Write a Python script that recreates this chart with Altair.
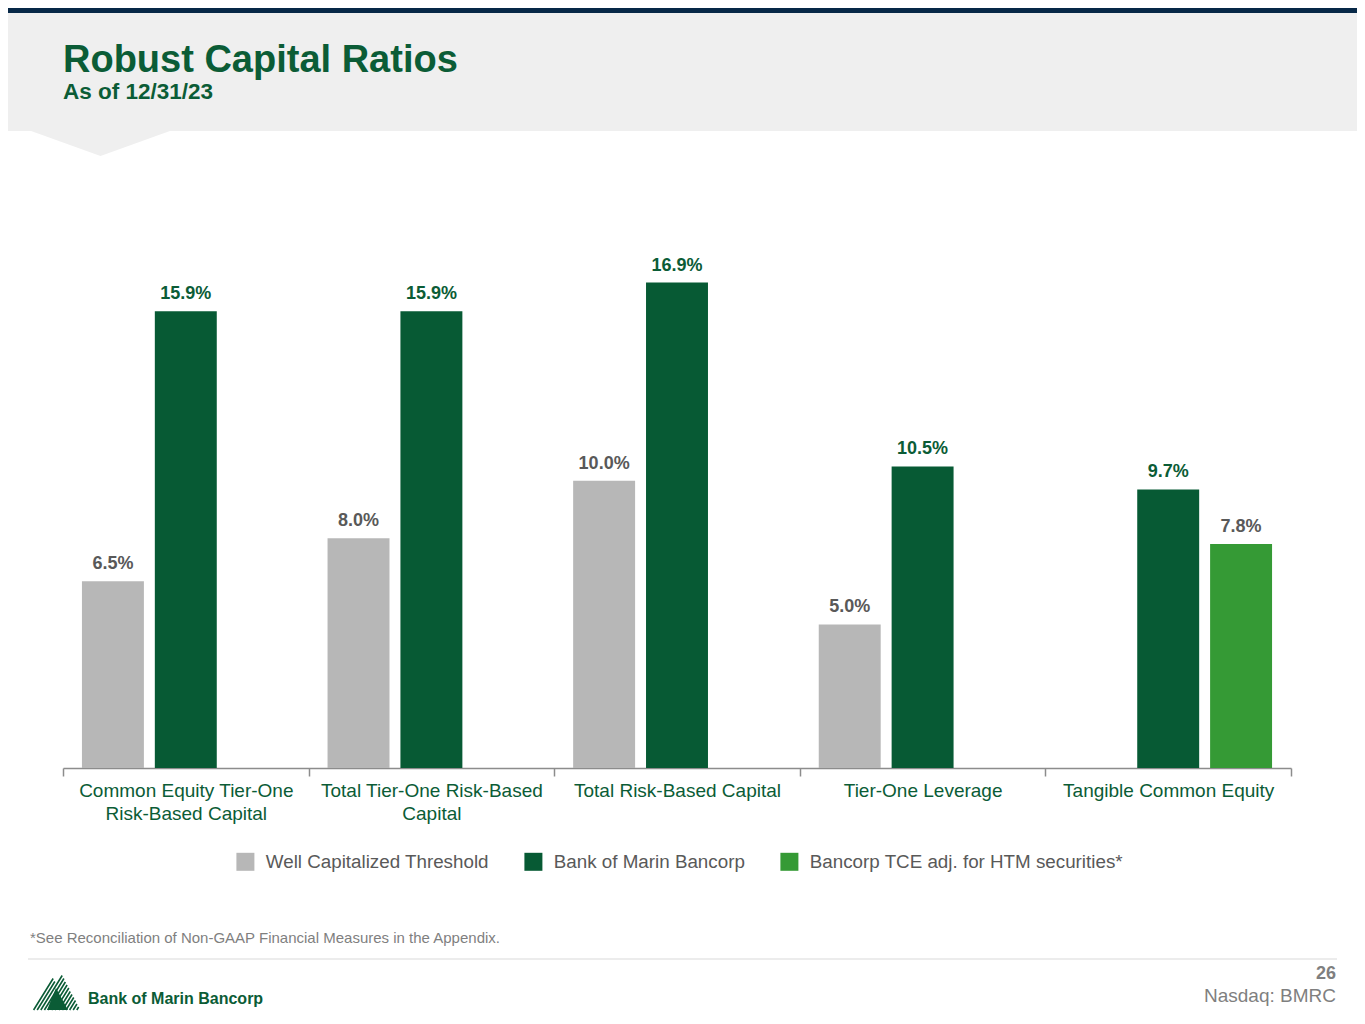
import altair as alt
import pandas as pd
import numpy as np

# ---------------- data ----------------
categories = [
    "Common Equity Tier-One\nRisk-Based Capital",
    "Total Tier-One Risk-Based\nCapital",
    "Total Risk-Based Capital",
    "Tier-One Leverage",
    "Tangible Common Equity",
]
series = [
    "Well Capitalized Threshold",
    "Bank of Marin Bancorp",
    "Bancorp TCE adj. for HTM securities*",
]
threshold = [6.5, 8.0, 10.0, 5.0, None]
bancorp = [15.9, 15.9, 16.9, 10.5, 9.7]
tce_adj = [None, None, None, None, 7.8]

title_text = "Robust Capital Ratios"
subtitle_text = "As of 12/31/23"
footnote_text = "*See Reconciliation of Non-GAAP Financial Measures in the Appendix."
page_text = "26"
ticker_text = "Nasdaq: BMRC"
logo_text = "Bank of Marin Bancorp"

# ---------------- styles ----------------
FONT = "Liberation Sans, Arial, Helvetica, sans-serif"
GREEN_TXT = "#0B5C36"
GRAY_TXT = "#595959"
colors = ["#B7B7B7", "#075A34", "#359A35"]

rows = []
for vals, s in zip([threshold, bancorp, tce_adj], series):
    for c, v in zip(categories, vals):
        if v is not None:
            rows.append({"category": c, "series": s, "value": v})
df = pd.DataFrame(rows)

W, H = 1228, 517
OX, OY = 63, 251  # page position of plot origin


def px(x):
    return x - OX


def py(y):
    return y - OY


x_enc = alt.X(
    "category:N",
    sort=categories,
    scale=alt.Scale(paddingInner=0, paddingOuter=0),
    axis=alt.Axis(
        title=None,
        labelAngle=0,
        labelFont=FONT,
        labelFontSize=19,
        labelColor=GREEN_TXT,
        labelPadding=5,
        labelLineHeight=23,
        labelLimit=400,
        labelExpr="split(datum.label, '\\n')",
        domainColor="#8C8C8C",
        domainWidth=1.5,
        tickColor="#8C8C8C",
        tickWidth=1.5,
        tickSize=8,
        tickBand="extent",
        grid=False,
    ),
)
xoff_enc = alt.XOffset(
    "series:N",
    sort=series,
    scale=alt.Scale(domain=series, paddingInner=0.15, paddingOuter=0.26),
)
y_enc = alt.Y("value:Q", scale=alt.Scale(domain=[0, 18]), axis=None)

bars = alt.Chart(df).mark_bar().encode(
    x=x_enc,
    xOffset=xoff_enc,
    y=y_enc,
    color=alt.Color(
        "series:N",
        sort=series,
        scale=alt.Scale(domain=series, range=colors),
        legend=alt.Legend(
            title=None,
            orient="none",
            legendX=173,
            legendY=601,
            direction="horizontal",
            symbolType="square",
            symbolSize=324,
            symbolStrokeWidth=0,
            labelFont=FONT,
            labelFontSize=18.8,
            labelColor=GRAY_TXT,
            labelOffset=11,
            columnPadding=35,
            labelLimit=500,
            padding=0,
        ),
    ),
)

labels = alt.Chart(df).transform_calculate(
    lbl="format(datum.value, '.1f') + '%'"
).mark_text(
    baseline="bottom", dy=-8, fontSize=18, fontWeight="bold", font=FONT
).encode(
    x=alt.X("category:N", sort=categories),
    xOffset=alt.XOffset("series:N", sort=series),
    y=alt.Y("value:Q"),
    text="lbl:N",
    color=alt.condition(
        alt.datum.series == series[1], alt.value(GREEN_TXT), alt.value(GRAY_TXT)
    ),
)


def one(t):
    return pd.DataFrame({"t": [t]})


# header
navy = alt.Chart(one("n")).mark_rect(color="#072847").encode(
    x=alt.value(px(0)), x2=alt.value(px(1365)), y=alt.value(py(0)), y2=alt.value(py(13))
)
band = alt.Chart(one("b")).mark_rect(color="#EFEFEF").encode(
    x=alt.value(px(0)), x2=alt.value(px(1365)), y=alt.value(py(13)), y2=alt.value(py(131))
)
chevron = alt.Chart(one("c")).mark_point(
    shape="M -1 -0.05 L 1 -0.05 L 0 0.31 Z",
    filled=True,
    fill="#EFEFEF",
    strokeWidth=0,
    opacity=1,
    size=161 * 161,
).encode(x=alt.value(px(100.5)), y=alt.value(py(131)))

title = alt.Chart(one(title_text)).mark_text(
    align="left", baseline="alphabetic", font=FONT, fontSize=38, fontWeight="bold", color=GREEN_TXT
).encode(x=alt.value(px(63)), y=alt.value(py(72)), text="t:N")
subtitle = alt.Chart(one(subtitle_text)).mark_text(
    align="left", baseline="alphabetic", font=FONT, fontSize=22.5, fontWeight="bold", color=GREEN_TXT
).encode(x=alt.value(px(63)), y=alt.value(py(99)), text="t:N")

# footer
footnote = alt.Chart(one(footnote_text)).mark_text(
    align="left", baseline="middle", font=FONT, fontSize=15, color="#7F7F7F"
).encode(x=alt.value(px(30)), y=alt.value(py(938)), text="t:N")
sep = alt.Chart(one("s")).mark_rule(color="#D9D9D9", strokeWidth=1).encode(
    x=alt.value(px(28)), x2=alt.value(px(1337)), y=alt.value(py(959))
)
page = alt.Chart(one(page_text)).mark_text(
    align="right", baseline="middle", font=FONT, fontSize=18, fontWeight="bold", color="#7F7F7F"
).encode(x=alt.value(px(1336)), y=alt.value(py(974)), text="t:N")
ticker = alt.Chart(one(ticker_text)).mark_text(
    align="right", baseline="middle", font=FONT, fontSize=19, color="#7F7F7F"
).encode(x=alt.value(px(1336)), y=alt.value(py(996)), text="t:N")
logo = alt.Chart(one(logo_text)).mark_text(
    align="left", baseline="middle", font="Liberation Sans Narrow, Arial Narrow, Liberation Sans, Arial, sans-serif",
    fontSize=16, fontWeight="bold", color=GREEN_TXT
).encode(x=alt.value(px(88)), y=alt.value(py(999)), text="t:N")

# logo icon (decorative)
CX, CY, HALF = 55.5, 992.0, 26.0


def outline(x):
    if x < 51:
        return 1010 - (x - 30) / 21 * 35
    if x < 56:
        return 975 + (x - 51) / 5 * 9
    if x < 61:
        return 984 - (x - 56) / 5 * 10
    return 974 + (x - 61) / 19 * 36


def u(x, y):
    return f"{(x - CX) / HALF:.3f} {(y - CY) / HALF:.3f}"


parts = []
for xb in np.arange(30.0, 79.0, 3.6):
    x, y = xb, 1010.0
    while y > outline(x) and x < 81:
        x += 0.62 * 0.5
        y -= 0.5
    if 1010 - y > 1.5:
        parts.append(f"M {u(xb, 1010)} L {u(x, y)}")
stripe_path = " ".join(parts)
tri_path = f"M {u(47, 1010)} L {u(56, 988)} L {u(68, 1010)} Z"

icon_stripes = alt.Chart(one("i")).mark_point(
    shape=stripe_path, filled=False, stroke=GREEN_TXT, strokeWidth=1.6, opacity=1, size=52 * 52
).encode(x=alt.value(px(CX)), y=alt.value(py(CY)))
icon_tri = alt.Chart(one("j")).mark_point(
    shape=tri_path, filled=True, fill=GREEN_TXT, strokeWidth=0, opacity=1, size=52 * 52
).encode(x=alt.value(px(CX)), y=alt.value(py(CY)))

chart = alt.layer(
    navy, band, chevron, title, subtitle,
    bars, labels,
    footnote, sep, page, ticker, logo, icon_stripes, icon_tri,
).properties(
    width=W,
    height=H,
    padding={"left": 55, "top": 243, "right": 66, "bottom": 248},
    autosize=alt.AutoSizeParams(type="none"),
    background="white",
).configure_view(stroke=None)

chart.save("out.html", embed_options={"renderer": "svg", "actions": False})
